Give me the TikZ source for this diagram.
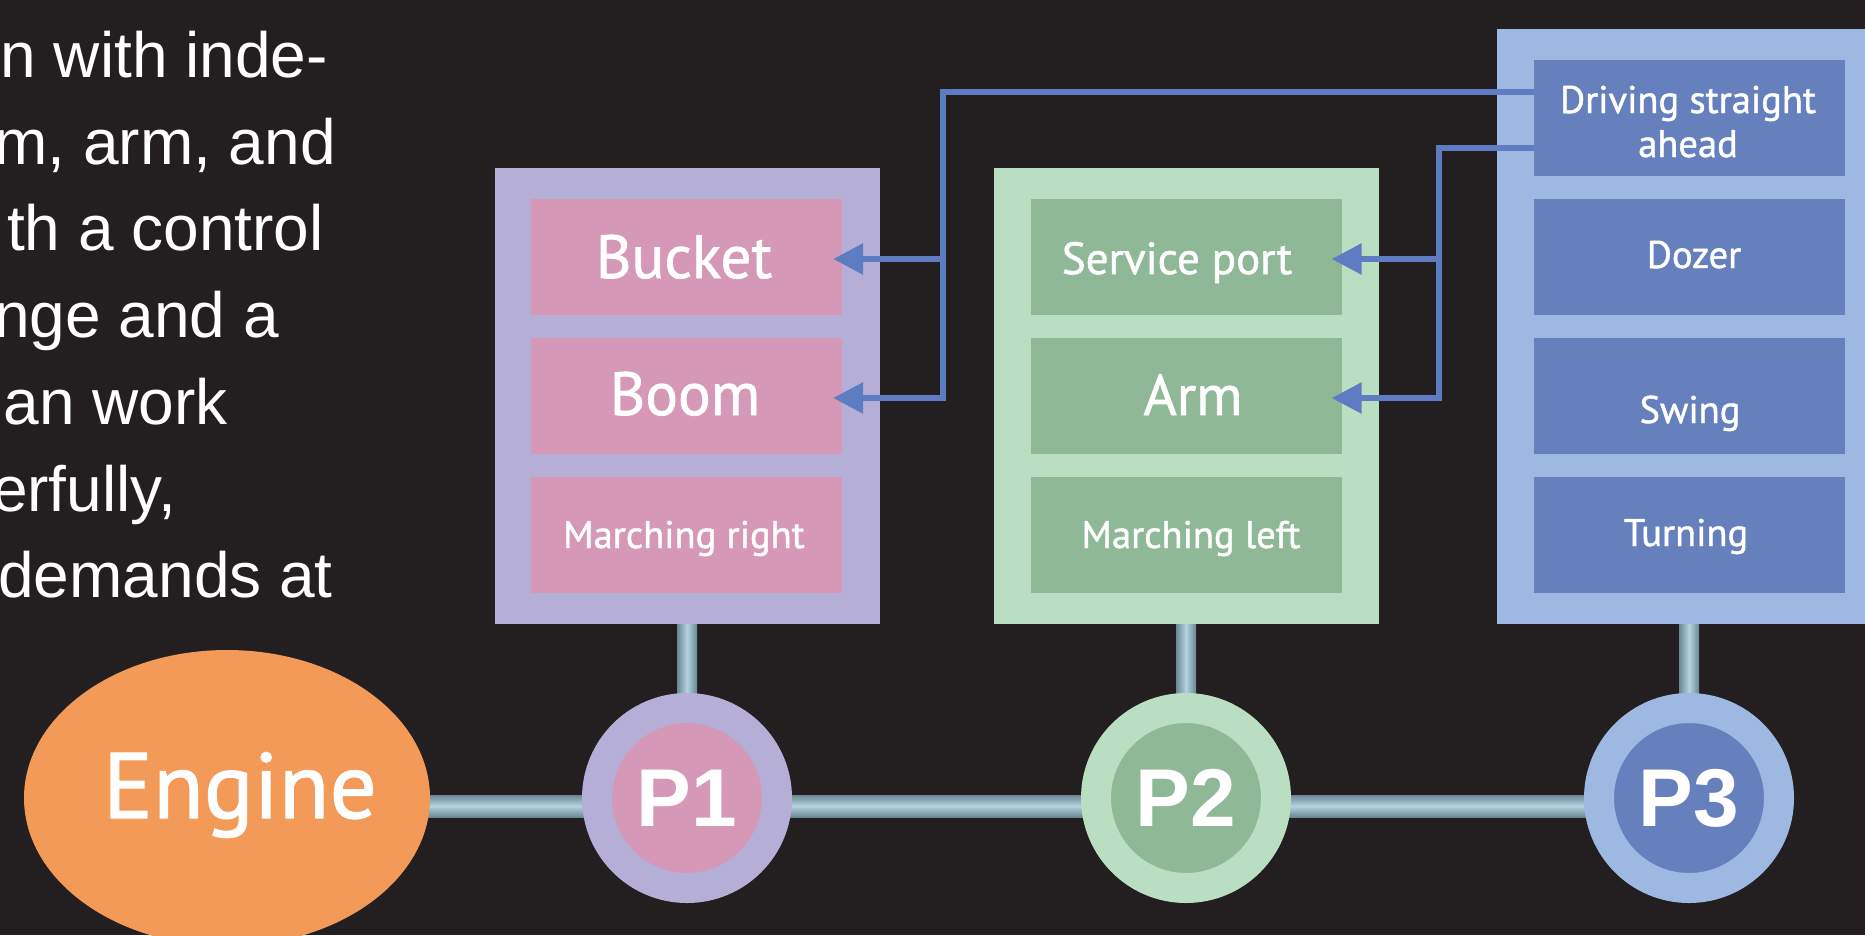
\documentclass[tikz,border=0pt]{standalone}
\usepackage{fontspec}
\setmainfont{Liberation Sans}
\newfontfamily\ptsans[FakeBold=1.2]{PT Sans}
\usetikzlibrary{arrows.meta,shapes.geometric,calc}
\definecolor{bg}{HTML}{231F20}
\definecolor{lav}{HTML}{B5AFD8}
\definecolor{pinkc}{HTML}{D598B6}
\definecolor{mint}{HTML}{B9DEC2}
\definecolor{greenc}{HTML}{8EB896}
\definecolor{sky}{HTML}{9DB8E1}
\definecolor{bluec}{HTML}{6580BD}
\definecolor{arrowc}{HTML}{5D7CC2}
\definecolor{orangec}{HTML}{F39A58}
\definecolor{shlight}{HTML}{B3D3DF}
\definecolor{shdark}{HTML}{6B8794}
\begin{document}
\begin{tikzpicture}[x=1pt,y=-1pt,
  obox/.style={rectangle, draw=none, inner sep=0pt, minimum width=385pt},
  ibox/.style={rectangle, draw=none, inner sep=0pt, minimum width=311pt, minimum height=116pt},
  lbig/.style={text=white, inner sep=0pt, font=\ptsans\fontsize{61}{61}\selectfont},
  lmid/.style={text=white, inner sep=0pt, font=\ptsans\fontsize{45}{45}\selectfont},
  larm/.style={text=white, inner sep=0pt, font=\ptsans\fontsize{57}{57}\selectfont},
  lsmall/.style={text=white, inner sep=0pt, font=\ptsans\fontsize{38.5}{38.5}\selectfont},
  ltext/.style={text=white, inner sep=0pt, anchor=base east, font=\fontsize{64}{64}\selectfont},
  pc/.style={circle, minimum size=180pt, line width=30pt, inner sep=0pt, text=white,
    font=\bfseries\fontsize{82}{82}\selectfont},
  arrline/.style={draw=arrowc, line width=6pt},
  tip/.style={-{Triangle[length=30pt,width=30pt]}}
]
\useasboundingbox (0,0) rectangle (1865,935);
\fill[bg] (0,0) rectangle (1865,935);

% left paragraph fragment
\node[ltext] (t1) at (328,77) {n with inde-};
\node[ltext] (t2) at (336,164) {m, arm, and};
\node[ltext] (t3) at (324,250) {th a control};
\node[ltext] (t4) at (279,337) {nge and a};
\node[ltext] (t5) at (228,424) {an work};
\node[ltext] (t6) at (176,511) {erfully,};
\node[ltext] (t7) at (333,597) {demands at};

% centre coordinates
\coordinate (cE) at (227,798);
\coordinate (c1) at (687,798);
\coordinate (c2) at (1186,798);
\coordinate (c3) at (1689,798);

% shafts
\shade[top color=shdark, bottom color=shdark, middle color=shlight]
  ($(cE)+(0,-3)$) rectangle ($(c3)+(0,19)$);
\foreach \c in {c1,c2,c3}{
  \shade[left color=shdark, right color=shdark, middle color=shlight]
    ($(\c)+(-10,-180)$) rectangle ($(\c)+(10,-100)$);
}

% outer boxes
\node[obox, fill=lav,  minimum height=456pt] (b1) at (687.5,396) {};
\node[obox, fill=mint, minimum height=456pt] (b2) at (1186.5,396) {};
\node[obox, fill=sky,  minimum height=595pt] (b3) at (1689.5,326.5) {};

% inner boxes
\node[ibox, fill=pinkc] (bucket) at (686.5,257) {};
\node[ibox, fill=pinkc] (boom)   at (686.5,396) {};
\node[ibox, fill=pinkc] (mright) at (686.5,535) {};
\node[ibox, fill=greenc] (sport) at (1186,257) {};
\node[ibox, fill=greenc] (arm)   at (1186,396) {};
\node[ibox, fill=greenc] (mleft) at (1186,535) {};
\node[ibox, fill=bluec] (drv)   at (1689.5,118) {};
\node[ibox, fill=bluec] (dozer) at (1689.5,257) {};
\node[ibox, fill=bluec] (swing) at (1689.5,396) {};
\node[ibox, fill=bluec] (turn)  at (1689.5,535) {};

% labels
\node[lbig, anchor=base] (lbucket) at (684,278) {Bucket};
\node[lbig, anchor=base] (lboom) at (685,415) {Boom};
\node[lsmall, anchor=base] (lmright) at (684,548) {Marching right};
\node[lmid, anchor=base] (lsport) at (1177,274) {Service port};
\node[larm, anchor=base] (larm) at (1193,415) {Arm};
\node[lsmall, anchor=base] (lmleft) at (1191,548) {Marching left};
\node[lsmall, anchor=base] (ldrv1) at (1688,113) {Driving straight};
\node[lsmall, anchor=base] (ldrv2) at (1688,157) {ahead};
\node[lsmall, anchor=base] (ldozer) at (1694,268) {Dozer};
\node[lsmall, anchor=base] (lswing) at (1690,423) {Swing};
\node[lsmall, anchor=base] (lturn) at (1686,546) {Turning};

% engine and pumps
\node[ellipse, fill=orangec, minimum width=406pt, minimum height=296pt, inner sep=0pt] (engine) at (cE) {};
\node[text=white, inner sep=0pt, anchor=base, font=\ptsans\fontsize{93}{93}\selectfont] (lengine) at (240,818) {Engine};
\node[pc, draw=lav, fill=pinkc] (p1) at (c1) {P1};
\node[pc, draw=mint, fill=greenc] (p2) at (c2) {P2};
\node[pc, draw=sky, fill=bluec] (p3) at (c3) {P3};

% control lines
\coordinate (j1) at (943,92);
\coordinate (j2) at (1439,148);
\draw[arrline, tip] ($(drv.west)+(0,-26)$) -- (j1) |- ($(boom.east)+(-9,2)$);
\draw[arrline, tip] ($(j1 |- bucket.east)+(0,2)$) -- ($(bucket.east)+(-9,2)$);
\draw[arrline, tip] ($(drv.west)+(0,30)$) -- (j2) |- ($(arm.east)+(-10,2)$);
\draw[arrline, tip] ($(j2 |- sport.east)+(0,2)$) -- ($(sport.east)+(-10,2)$);
\end{tikzpicture}
\end{document}
